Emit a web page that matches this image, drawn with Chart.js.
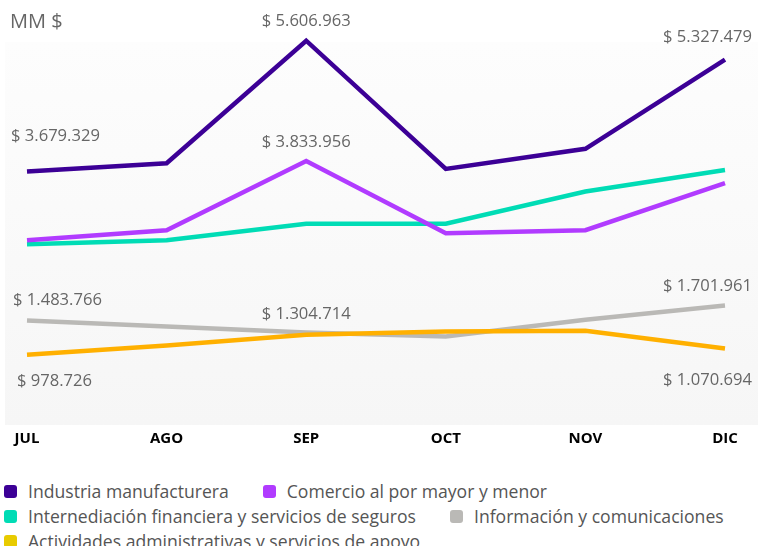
<!DOCTYPE html>
<html>
<head>
<meta charset="utf-8">
<script src="https://cdn.jsdelivr.net/npm/chart.js@4/dist/chart.umd.min.js"></script>
<style>
  html, body { margin: 0; padding: 0; background: #ffffff; width: 768px; height: 546px; overflow: hidden; }
  #wrap { position: absolute; left: 0; top: 0; width: 768px; height: 470px; }
  #legend { position: absolute; left: 4px; top: 479px; width: 762px; font-family: "Open Sans", sans-serif; font-size: 17.6px; color: #555; line-height: 24.5px; }
  .item { display: inline-flex; align-items: center; margin-right: 34px; white-space: nowrap; }
  .box { width: 13px; height: 13px; border-radius: 3px; margin-right: 11px; display: inline-block; }
</style>
</head>
<body>
<div id="wrap"><canvas id="c" width="768" height="470"></canvas></div>
<div id="legend"></div>
<script>
// ---- data ----
const months = ["JUL", "AGO", "SEP", "OCT", "NOV", "DIC"];
const seriesNames = [
  "Industria manufacturera",
  "Comercio al por mayor y menor",
  "Internediación financiera y servicios de seguros",
  "Información y comunicaciones",
  "Actividades administrativas y servicios de apoyo"
];
const industria   = [3679329, 3800000, 5606963, 3717000, 4013000, 5327479];
const comercio    = [2664000, 2813000, 3833956, 2768000, 2813000, 3509000];
const financiera  = [2605000, 2664000, 2910000, 2910000, 3385000, 3702000];
const informacion = [1483766, 1394000, 1304714, 1246000, 1494000, 1701961];
const actividades = [978726, 1113000, 1271000, 1320000, 1331000, 1070694];
const unitLabel = "MM $";
// which points carry a value label: [series index, month index]
const labelled = [[0,0],[0,2],[0,5],[1,2],[3,0],[3,2],[3,5],[4,0],[4,5]];

// ---- styles ----
const lineColors   = ["#3c0096", "#b13bff", "#00dcb5", "#bab9b6", "#ffb000"];
const legendColors = ["#3c0096", "#b13bff", "#00dcb5", "#bab9b6", "#e8cb00"];
const drawOrder    = [0, 1, 2, 4, 3];
// label placement: [dx, dy, align]
const labelPlace = {
  "0,0": [-16, -35, "left"], "0,2": [0, -19, "center"], "0,5": [27, -22, "right"],
  "1,2": [0, -19, "center"],
  "3,0": [-14, -20, "left"], "3,2": [0, -18, "center"], "3,5": [27, -19, "right"],
  "4,0": [-10, 27, "left"], "4,5": [27, 32, "right"]
};

const allSeries = [industria, comercio, financiera, informacion, actividades];

function fmt(v) {
  return "$ " + Math.round(v).toString().replace(/\B(?=(\d{3})+(?!\d))/g, ".");
}

const bgPlugin = {
  id: "bg",
  beforeDraw(chart) {
    const { ctx, chartArea: a } = chart;
    const g = ctx.createLinearGradient(0, a.top, 0, a.bottom);
    g.addColorStop(0, "#fdfdfd");
    g.addColorStop(1, "#f6f6f6");
    ctx.save();
    ctx.fillStyle = g;
    ctx.fillRect(a.left - 22, a.top, (a.right + 33) - (a.left - 22), a.bottom - a.top);
    ctx.restore();
  },
  afterDraw(chart) {
    const { ctx } = chart;
    ctx.save();
    ctx.fillStyle = "#666";
    ctx.font = "20px 'Open Sans'";
    ctx.textBaseline = "middle";
    ctx.textAlign = "left";
    ctx.fillText(unitLabel, 10, 22);
    ctx.font = "16.6px 'Open Sans'";
    ctx.fillStyle = "#666";
    labelled.forEach(([s, i]) => {
      const el = chart.getDatasetMeta(s).data[i];
      const p = labelPlace[s + "," + i];
      ctx.textAlign = p[2];
      ctx.fillText(fmt(allSeries[s][i]), el.x + p[0], el.y + p[1]);
    });
    ctx.restore();
  }
};

const chart = new Chart(document.getElementById("c"), {
  type: "line",
  data: {
    labels: months,
    datasets: allSeries.map((d, k) => ({
      label: seriesNames[k],
      data: d,
      borderColor: lineColors[k],
      backgroundColor: legendColors[k],
      borderWidth: 4.5,
      pointRadius: 0,
      tension: 0,
      borderJoinStyle: "miter",
      clip: false,
      order: drawOrder[k]
    }))
  },
  options: {
    responsive: false,
    animation: false,
    layout: { padding: { left: 27, right: 43, top: 42, bottom: 17 } },
    plugins: { legend: { display: false }, tooltip: { enabled: false } },
    scales: {
      x: {
        grid: { display: false, drawTicks: false },
        border: { display: false },
        ticks: { color: "#000", font: { family: "Open Sans", size: 15, weight: "bold" }, padding: 5 }
      },
      y: { display: false, min: -58000, max: 5588000 }
    }
  },
  plugins: [bgPlugin]
});

// HTML legend built from the datasets
const leg = document.getElementById("legend");
chart.data.datasets.forEach((ds) => {
  const it = document.createElement("span");
  it.className = "item";
  const b = document.createElement("span");
  b.className = "box";
  b.style.background = ds.backgroundColor;
  it.appendChild(b);
  it.appendChild(document.createTextNode(ds.label));
  leg.appendChild(it);
});
</script>
</body>
</html>
